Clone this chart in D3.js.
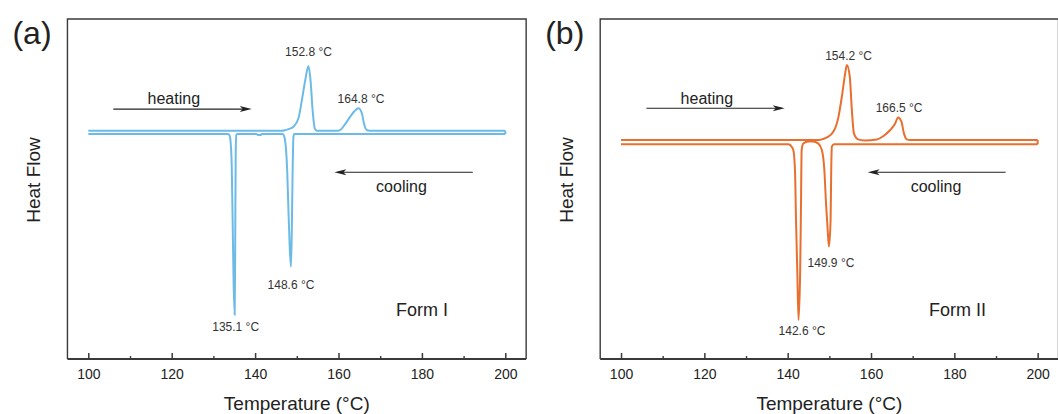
<!DOCTYPE html>
<html>
<head>
<meta charset="utf-8">
<script src="https://cdn.jsdelivr.net/npm/d3@7"></script>
<style>
  body { margin: 0; background: #fff; }
  svg { display: block; font-family: "Liberation Sans", Arial, sans-serif; }
</style>
</head>
<body>
<svg id="chart" width="1058" height="414"></svg>
<script>
// DSC traces: [temperature °C, heat flow (a.u., endo up)]
// Form I - heating run
var heatingA = [
  [100, 0], [146.5, 0], [147.3, 0.03], [148.3, 0.1], [149.2, 0.2], [150.4, 0.62],
  [151.2, 1.5], [152.0, 2.5], [152.8, 3.23], [153.3, 2.5], [153.8, 1.0], [154.3, 0.12],
  [154.8, 0], [160.0, 0], [160.5, 0.05], [161.6, 0.33], [162.8, 0.7], [163.7, 0.95],
  [164.8, 1.12], [165.6, 0.87], [166.1, 0.37], [166.8, 0.02], [167.5, 0], [200, 0]
];
// Form I - cooling run
var coolingA = [
  [100, -0.17], [133.5, -0.17], [133.9, -0.25], [134.15, -0.63], [134.4, -1.8],
  [134.6, -4.3], [134.85, -7.6], [135.1, -9.2], [135.22, -6.1], [135.35, -1.1],
  [135.5, -0.2], [135.8, -0.17], [140.3, -0.17], [140.7, -0.22], [141.3, -0.22],
  [141.6, -0.17], [146.6, -0.17], [147.0, -0.3], [147.4, -0.9], [147.7, -2.0],
  [148.0, -4.0], [148.3, -5.8], [148.6, -6.8], [148.8, -5.0], [149.0, -2.0],
  [149.2, -0.3], [149.4, -0.17], [200, -0.17]
];
// Form II - heating run
var heatingB = [
  [100, 0], [147.5, 0], [148.5, 0.05], [149.4, 0.13], [151.0, 0.42], [152.2, 1.17],
  [153.0, 2.17], [153.8, 3.33], [154.2, 3.75], [154.9, 3.17], [155.4, 1.5], [155.9, 0.33],
  [156.9, 0.03], [158.4, -0.02], [161.4, 0.03], [163.0, 0.2], [164.6, 0.5], [165.8, 0.83],
  [166.5, 1.13], [167.3, 0.92], [167.9, 0.33], [168.6, 0.03], [169.4, 0], [200, 0]
];
// Form II - cooling run
var coolingB = [
  [100, -0.21], [140.2, -0.21], [140.6, -0.25], [141.35, -0.5], [141.75, -1.5],
  [142.0, -4.0], [142.3, -6.5], [142.6, -9.0], [143.0, -6.5], [143.2, -3.17],
  [143.35, -0.5], [143.75, -0.17], [144.9, -0.07], [146.1, -0.07], [147.3, -0.17],
  [148.2, -0.5], [148.8, -1.5], [149.2, -3.17], [149.6, -4.5], [149.9, -5.33],
  [150.3, -4.0], [150.45, -1.5], [150.6, -0.33], [151.1, -0.21], [200, -0.21]
];

// labelled transition temperatures
var peaksA = [152.8, 164.8];
var troughsA = [135.1, 148.6];
var peaksB = [154.2, 166.5];
var troughsB = [142.6, 149.9];

var majorTicks = [100, 120, 140, 160, 180, 200];
var minorTicks = [110, 130, 150, 170, 190];

var panels = [
  {
    tag: "(a)", form: "Form I", color: "#6cbbe6",
    heating: heatingA, cooling: coolingA, peaks: peaksA, troughs: troughsA,
    left: 67.45, right: 526.15, yDomain: [-11.415, 5.585],
    // label offsets [dx, dy] from the extremum, peaks then troughs
    offsets: [[0, -14], [2.5, -10], [1, 12], [0, 18]],
    heatArrow: [106, 139.2, 1.08], heatText: [120.5, 1.63],
    coolArrow: [192.2, 159.0, -2.08], coolText: [175.1, -2.8],
    formText: [180, -8.97]
  },
  {
    tag: "(b)", form: "Form II", color: "#e86f2d",
    heating: heatingB, cooling: coolingB, peaks: peaksB, troughs: troughsB,
    left: 600.2, right: 1058.5, yDomain: [-10.95, 6.05],
    offsets: [[1.7, -9], [1, -10], [3.5, 11], [2, 16.5]],
    heatArrow: [106.1, 139.3, 1.585], heatText: [120.6, 2.085],
    coolArrow: [192.3, 159.2, -1.615], coolText: [175.6, -2.335],
    formText: [180.75, -8.465]
  }
];

var svg = d3.select("#chart");
var plotTop = 19, plotBottom = 359;

panels.forEach(drawPanel);

function drawPanel(p) {
  var x = d3.scaleLinear().domain([95, 205]).range([p.left, p.right]);
  var y = d3.scaleLinear().domain(p.yDomain).range([plotBottom, plotTop]);
  var g = svg.append("g");

  //frame
  g.append("path")
    .attr("d", `M${p.left},${plotBottom}V${plotTop}H${p.right}V${plotBottom}`)
    .attr("fill", "none")
    .attr("stroke", "#3a3a3a")
    .attr("stroke-width", 1.4);

  //minor ticks first, then major axis with labels
  g.append("g")
    .attr("transform", `translate(0,${plotBottom})`)
    .call(d3.axisBottom(x).tickValues(minorTicks).tickSize(-3).tickFormat(""))
    .call(function (a) { a.select(".domain").remove(); })
    .selectAll("line").attr("stroke", "#3a3a3a").attr("stroke-width", 1.4);

  var ax = g.append("g")
    .attr("transform", `translate(0,${plotBottom})`)
    .call(d3.axisBottom(x).tickValues(majorTicks).tickSizeInner(-6).tickSizeOuter(0).tickPadding(10));
  ax.select(".domain").attr("stroke", "#3a3a3a").attr("stroke-width", 2)
    .attr("d", `M${p.left},0H${p.right}`);
  ax.selectAll(".tick line").attr("stroke", "#3a3a3a").attr("stroke-width", 1.5);
  ax.selectAll(".tick text")
    .attr("fill", "#222")
    .style("font-size", "14px")
    .style("font-family", "Liberation Sans, Arial, sans-serif");

  //axis titles
  g.append("text")
    .attr("x", (p.left + p.right) / 2)
    .attr("y", 403)
    .attr("dy", "0.35em")
    .attr("text-anchor", "middle")
    .attr("fill", "#222")
    .style("font-size", "19px")
    .text("Temperature (°C)");

  g.append("text")
    .attr("transform", `translate(${p.left - 34},180) rotate(-90)`)
    .attr("dy", "0.35em")
    .attr("text-anchor", "middle")
    .attr("fill", "#222")
    .style("font-size", "19px")
    .text("Heat Flow");

  g.append("text")
    .attr("x", p.left - 55)
    .attr("y", 44)
    .attr("fill", "#222")
    .style("font-size", "32px")
    .text(p.tag);

  //traces
  var line = d3.line()
    .x(function (d) { return x(d[0]); })
    .y(function (d) { return y(d[1]); })
    .curve(d3.curveMonotoneX);

  [p.heating, p.cooling].forEach(function (trace) {
    g.append("path")
      .datum(trace)
      .attr("d", line)
      .attr("fill", "none")
      .attr("stroke", p.color)
      .attr("stroke-width", 2);
  });

  //joint of the two runs at the top temperature
  var hEnd = p.heating[p.heating.length - 1];
  var cEnd = p.cooling[p.cooling.length - 1];
  g.append("line")
    .attr("x1", x(hEnd[0])).attr("y1", y(hEnd[1]))
    .attr("x2", x(cEnd[0])).attr("y2", y(cEnd[1]))
    .attr("stroke", p.color)
    .attr("stroke-width", 2);

  //peak / trough labels
  var marks = p.peaks.map(function (t) { return { t: t, trace: p.heating }; })
    .concat(p.troughs.map(function (t) { return { t: t, trace: p.cooling }; }));

  marks.forEach(function (m, i) {
    var pt = m.trace.reduce(function (best, d) {
      return Math.abs(d[0] - m.t) < Math.abs(best[0] - m.t) ? d : best;
    });
    g.append("text")
      .attr("x", x(pt[0]) + p.offsets[i][0])
      .attr("y", y(pt[1]) + p.offsets[i][1])
      .attr("dy", "0.35em")
      .attr("text-anchor", "middle")
      .attr("fill", "#333")
      .style("font-size", "12px")
      .text(m.t.toFixed(1) + " °C");
  });

  //heating / cooling arrows
  drawArrow(g, x(p.heatArrow[0]), x(p.heatArrow[1]), y(p.heatArrow[2]));
  drawArrow(g, x(p.coolArrow[0]), x(p.coolArrow[1]), y(p.coolArrow[2]));

  g.append("text")
    .attr("x", x(p.heatText[0])).attr("y", y(p.heatText[1]))
    .attr("dy", "0.35em").attr("text-anchor", "middle")
    .attr("fill", "#222").style("font-size", "16px")
    .text("heating");

  g.append("text")
    .attr("x", x(p.coolText[0])).attr("y", y(p.coolText[1]))
    .attr("dy", "0.35em").attr("text-anchor", "middle")
    .attr("fill", "#222").style("font-size", "16px")
    .text("cooling");

  g.append("text")
    .attr("x", x(p.formText[0])).attr("y", y(p.formText[1]))
    .attr("dy", "0.35em").attr("text-anchor", "middle")
    .attr("fill", "#222").style("font-size", "18px")
    .text(p.form);
}

function drawArrow(g, x1, x2, yy) {
  var dir = x2 > x1 ? 1 : -1;
  g.append("line")
    .attr("x1", x1).attr("y1", yy)
    .attr("x2", x2 - dir * 4).attr("y2", yy)
    .attr("stroke", "#222")
    .attr("stroke-width", 1.1);
  g.append("path")
    .attr("d", `M${x2},${yy}L${x2 - dir * 12},${yy - 3}L${x2 - dir * 9},${yy}L${x2 - dir * 12},${yy + 3}Z`)
    .attr("fill", "#222");
}
</script>
</body>
</html>
